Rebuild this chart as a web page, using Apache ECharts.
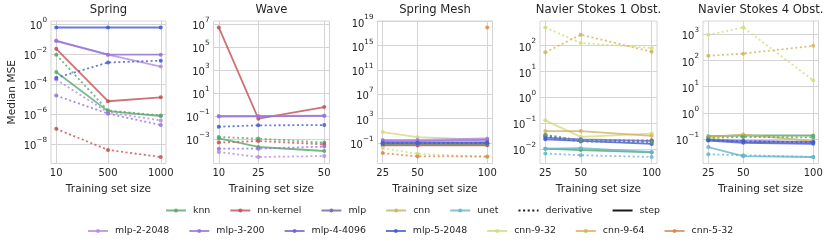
<!DOCTYPE html>
<html><head><meta charset="utf-8">
<script src="https://cdn.jsdelivr.net/npm/echarts@6/dist/echarts.min.js"></script>
<style>html,body{margin:0;padding:0;background:#fff}#c{width:831px;height:249px}</style>
</head><body><div id="c"></div>
<script>
// ---------------- data ----------------
const panelTitles = ['Spring', 'Wave', 'Spring Mesh', 'Navier Stokes 1 Obst.', 'Navier Stokes 4 Obst.'];
const xSpring = [10, 500, 1000];
const xWave = [10, 25, 50];
const xMesh = [25, 50, 100];
const xNS1 = [25, 50, 100];
const xNS4 = [25, 50, 100];
const yTicksSpring = [1e-8, 1e-6, 1e-4, 1e-2, 1];
const yTicksWave = [1e-3, 1e-1, 1e1, 1e3, 1e5, 1e7];
const yTicksMesh = [1e-1, 1e3, 1e7, 1e11, 1e15, 1e19];
const yTicksNS1 = [1e-2, 1e-1, 1, 1e1, 1e2];
const yTicksNS4 = [1e-1, 1, 1e1, 1e2, 1e3];

// Spring
const spring_knn_step = [6.5e-4, 1.55e-6, 7.2e-7];
const spring_knn_deriv = [9.3e-3, 1.7e-6, 7.9e-7];
const spring_nnk_step = [2.3e-2, 7.1e-6, 1.3e-5];
const spring_nnk_deriv = [1.0e-7, 3.9e-9, 1.3e-9];
const spring_mlp2_step = [8.3e-2, 9.3e-3, 1.5e-3];
const spring_mlp3_step = [7.6e-2, 9.3e-3, 9.3e-3];
const spring_mlp5_step = [0.62, 0.62, 0.62];
const spring_mlp2_deriv = [2.0e-4, 1.26e-6, 3.7e-7];
const spring_mlp3_deriv = [1.7e-5, 1.05e-6, 1.8e-7];
const spring_mlp5_deriv = [2.6e-4, 2.8e-3, 3.7e-3];
// Wave
const wave_nnk_step = [5.2e6, 5.8e-2, 0.59];
const wave_mlp2_step = [0.1, 0.1, 0.107];
const wave_mlp3_step = [0.089, 0.091, 0.1];
const wave_mlp5_deriv = [1.15e-2, 1.5e-2, 1.6e-2];
const wave_knn_deriv = [1.45e-3, 1.05e-3, 4.7e-4];
const wave_knn_step = [1.1e-3, 1.95e-4, 8.7e-5];
const wave_nnk_deriv = [4.7e-4, 6.5e-4, 3.3e-4];
const wave_mlp3_deriv = [1.4e-4, 1.4e-4, 2.1e-4];
const wave_mlp2_deriv = [7.1e-5, 2.6e-5, 3.2e-5];
// Spring Mesh
const mesh_cnn932_step = [5.8, 0.87, 0.31];
const mesh_mlp2_step = [0.31, 0.31, 0.51];
const mesh_mlp3_step = [0.19, 0.19, 0.31];
const mesh_mlp4_step = [0.11, 0.11, 0.13];
const mesh_mlp5_step = [0.078, 0.078, 0.08];
const mesh_knn_step = [0.054, 0.054, 0.054];
const mesh_nnk_step = [0.036, 0.036, 0.038];
const mesh_cnn532_step = [null, null, 1e18];
const mesh_knn_deriv = [0.075, 0.07, 0.075];
const mesh_mlp5_deriv = [0.085, 0.085, 0.088];
const mesh_cnn932_deriv = [1.35e-2, 1.55e-3, 4.5e-4];
const mesh_cnn532_deriv = [2.0e-3, 5.6e-4, 5.6e-4];
// Navier Stokes 1 Obst.
const ns1_cnn932_deriv = [500, 126, 81];
const ns1_cnn964_deriv = [55, 263, 58];
const ns1_cnn932_step = [0.13, 0.030, 0.040];
const ns1_cnn964_step = [0.050, 0.050, 0.033];
const ns1_mlp4_step = [0.028, 0.024, 0.021];
const ns1_mlp5_step = [0.024, 0.021, 0.016];
const ns1_mlp4_deriv = [0.035, 0.022, 0.022];
const ns1_mlp5_deriv = [0.031, 0.020, 0.019];
const ns1_knn_deriv = [0.036, 0.021, 0.019];
const ns1_knn_step = [0.0105, 0.0093, 0.0075];
const ns1_unet_step = [0.0105, 0.011, 0.0078];
const ns1_unet_deriv = [0.0068, 0.0059, 0.0050];
// Navier Stokes 4 Obst.
const ns4_cnn932_deriv = [955, 1820, 17.4];
const ns4_cnn964_deriv = [151, 182, 363];
const ns4_knn_step = [0.128, 0.136, 0.136];
const ns4_knn_deriv = [0.11, 0.12, 0.115];
const ns4_cnn964_step = [0.117, 0.148, 0.083];
const ns4_cnn932_step = [0.105, 0.078, 0.072];
const ns4_mlp4_step = [0.095, 0.085, 0.078];
const ns4_mlp5_step = [0.087, 0.072, 0.066];
const ns4_mlp5_deriv = [0.09, 0.082, 0.075];
const ns4_unet_step = [0.049, 0.022, 0.0205];
const ns4_unet_deriv = [0.026, 0.024, 0.0205];

const legendRow1 = ['knn', 'nn-kernel', 'mlp', 'cnn', 'unet', 'derivative', 'step'];
const legendRow2 = ['mlp-2-2048', 'mlp-3-200', 'mlp-4-4096', 'mlp-5-2048', 'cnn-9-32', 'cnn-9-64', 'cnn-5-32'];

// ---------------- styles ----------------
const FONT = 'DejaVu Sans';
const TXT = '#262626';
const GRIDC = '#d4d4d4';
const colors = {
  'knn': '#55a868', 'nn-kernel': '#c44e52', 'mlp': '#8172b2', 'cnn': '#ccb974', 'unet': '#64b5cd',
  'mlp-2-2048': '#b08be4', 'mlp-3-200': '#9570da', 'mlp-4-4096': '#6e60d6', 'mlp-5-2048': '#4258d2',
  'cnn-9-32': '#d3db7e', 'cnn-9-64': '#d6b25a', 'cnn-5-32': '#d8874b',
  'derivative': '#000000', 'step': '#000000'
};

const panels = [
  { title: panelTitles[0], x: xSpring, yt: yTicksSpring, lines: [
    ['mlp-5-2048', 'step', spring_mlp5_step], ['mlp-2-2048', 'step', spring_mlp2_step], ['mlp-3-200', 'step', spring_mlp3_step],
    ['nn-kernel', 'step', spring_nnk_step], ['knn', 'step', spring_knn_step],
    ['knn', 'deriv', spring_knn_deriv], ['nn-kernel', 'deriv', spring_nnk_deriv], ['mlp-2-2048', 'deriv', spring_mlp2_deriv],
    ['mlp-3-200', 'deriv', spring_mlp3_deriv], ['mlp-5-2048', 'deriv', spring_mlp5_deriv] ] },
  { title: panelTitles[1], x: xWave, yt: yTicksWave, lines: [
    ['nn-kernel', 'step', wave_nnk_step], ['knn', 'step', wave_knn_step], ['mlp-2-2048', 'step', wave_mlp2_step], ['mlp-3-200', 'step', wave_mlp3_step],
    ['mlp-5-2048', 'deriv', wave_mlp5_deriv], ['knn', 'deriv', wave_knn_deriv], ['nn-kernel', 'deriv', wave_nnk_deriv],
    ['mlp-3-200', 'deriv', wave_mlp3_deriv], ['mlp-2-2048', 'deriv', wave_mlp2_deriv] ] },
  { title: panelTitles[2], x: xMesh, yt: yTicksMesh, lines: [
    ['cnn-5-32', 'step', mesh_cnn532_step], ['cnn-9-32', 'step', mesh_cnn932_step], ['mlp-2-2048', 'step', mesh_mlp2_step],
    ['mlp-3-200', 'step', mesh_mlp3_step], ['mlp-4-4096', 'step', mesh_mlp4_step], ['mlp-5-2048', 'step', mesh_mlp5_step],
    ['knn', 'step', mesh_knn_step], ['nn-kernel', 'step', mesh_nnk_step],
    ['knn', 'deriv', mesh_knn_deriv], ['mlp-5-2048', 'deriv', mesh_mlp5_deriv],
    ['cnn-9-32', 'deriv', mesh_cnn932_deriv], ['cnn-5-32', 'deriv', mesh_cnn532_deriv] ] },
  { title: panelTitles[3], x: xNS1, yt: yTicksNS1, lines: [
    ['cnn-9-32', 'step', ns1_cnn932_step], ['cnn-9-64', 'step', ns1_cnn964_step], ['mlp-4-4096', 'step', ns1_mlp4_step],
    ['mlp-5-2048', 'step', ns1_mlp5_step], ['knn', 'step', ns1_knn_step], ['unet', 'step', ns1_unet_step],
    ['cnn-9-32', 'deriv', ns1_cnn932_deriv], ['cnn-9-64', 'deriv', ns1_cnn964_deriv], ['mlp-4-4096', 'deriv', ns1_mlp4_deriv],
    ['mlp-5-2048', 'deriv', ns1_mlp5_deriv], ['knn', 'deriv', ns1_knn_deriv], ['unet', 'deriv', ns1_unet_deriv] ] },
  { title: panelTitles[4], x: xNS4, yt: yTicksNS4, lines: [
    ['knn', 'step', ns4_knn_step], ['cnn-9-64', 'step', ns4_cnn964_step], ['cnn-9-32', 'step', ns4_cnn932_step],
    ['mlp-4-4096', 'step', ns4_mlp4_step], ['mlp-5-2048', 'step', ns4_mlp5_step], ['unet', 'step', ns4_unet_step],
    ['cnn-9-32', 'deriv', ns4_cnn932_deriv], ['cnn-9-64', 'deriv', ns4_cnn964_deriv], ['knn', 'deriv', ns4_knn_deriv],
    ['mlp-5-2048', 'deriv', ns4_mlp5_deriv], ['unet', 'deriv', ns4_unet_deriv] ] }
];

// ---------------- layout ----------------
const boxes = [[51, 115], [213.5, 116], [377.5, 115], [540, 117], [703, 115.5]];
const TOP = 21, H = 142.5;
const DOT = [2, 2.6];

const grids = [], xAxes = [], yAxes = [], titles = [];
const stepSeries = [], derivSeries = [];

function sup(e) { return e < 0 ? '\u2212' + (-e) : String(e); }

panels.forEach((p, i) => {
  const [left, width] = boxes[i];
  grids.push({ left, top: TOP, width, height: H, show: true, borderColor: GRIDC, borderWidth: 1, backgroundColor: 'transparent' });
  const xs = p.x;
  const xspan = xs[xs.length - 1] - xs[0];
  xAxes.push({
    type: 'value', gridIndex: i, min: xs[0] - 0.05 * xspan, max: xs[xs.length - 1] + 0.05 * xspan,
    axisLine: { show: false }, axisTick: { show: false, customValues: xs },
    axisLabel: { customValues: xs, formatter: v => String(v), margin: 5, fontSize: 10, fontFamily: FONT, color: TXT },
    splitLine: { show: true, lineStyle: { color: GRIDC, width: 1 } },
    name: 'Training set size', nameLocation: 'middle', nameGap: 19,
    nameTextStyle: { fontSize: 10.6, fontFamily: FONT, color: TXT }
  });
  const vals = [];
  p.lines.forEach(l => l[2].forEach(v => { if (v != null) vals.push(Math.log10(v)); }));
  const lmin = Math.min(...vals), lmax = Math.max(...vals);
  const pad = 0.05 * (lmax - lmin);
  yAxes.push({
    type: 'log', gridIndex: i, logBase: 10, min: Math.pow(10, lmin - pad), max: Math.pow(10, lmax + pad),
    axisLine: { show: false }, axisTick: { show: false, customValues: p.yt },
    axisLabel: {
      customValues: p.yt, margin: 4,
      formatter: v => '{b|10}{s|' + sup(Math.round(Math.log10(v))) + '}',
      rich: {
        b: { fontSize: 10, fontFamily: FONT, color: TXT, verticalAlign: 'bottom', lineHeight: 15 },
        s: { fontSize: 7.2, fontFamily: FONT, color: TXT, verticalAlign: 'top', lineHeight: 15 }
      }
    },
    splitLine: { show: true, lineStyle: { color: GRIDC, width: 1 } },
    name: i === 0 ? 'Median MSE' : '', nameLocation: 'middle', nameGap: 33,
    nameTextStyle: { fontSize: 10.6, fontFamily: FONT, color: TXT }
  });
  titles.push({ text: p.title, left: left + width / 2, top: 4, textAlign: 'center', padding: 0,
    textStyle: { fontSize: 11.6, fontWeight: 'normal', fontFamily: FONT, color: TXT } });

  p.lines.forEach(([model, kind, arr]) => {
    const c = colors[model];
    const s = {
      type: 'line', name: model, xAxisIndex: i, yAxisIndex: i,
      data: xs.map((x, k) => [x, arr[k] == null ? '-' : arr[k]]),
      symbol: 'circle', symbolSize: 4, showSymbol: true, showAllSymbol: true,
      lineStyle: { color: c, width: 1.8, type: kind === 'deriv' ? DOT : 'solid', opacity: 0.8 },
      itemStyle: { color: c, opacity: 0.85 },
      emphasis: { disabled: true }, animation: false, silent: true
    };
    (kind === 'step' ? stepSeries : derivSeries).push(s);
  });
});

// legend-only entries
const dummy = (name, type, withSymbol) => ({
  type: 'line', name, xAxisIndex: 0, yAxisIndex: 0, data: [],
  symbol: withSymbol ? 'circle' : 'none', symbolSize: 4,
  lineStyle: { color: colors[name], width: 1.8, type: type, opacity: 0.9 },
  itemStyle: { color: colors[name], opacity: withSymbol ? 1 : 0 }, animation: false, silent: true
});
const extra = [dummy('mlp', 'solid', true), dummy('cnn', 'solid', true),
  dummy('derivative', DOT, false), dummy('step', 'solid', false)];

const legendBase = {
  itemWidth: 20, itemHeight: 5, itemGap: 19, padding: 0, selectedMode: false,
  textStyle: { fontSize: 9.4, fontFamily: FONT, color: TXT, padding: [0, 0, 0, 2] }
};

const option = {
  backgroundColor: '#ffffff',
  animation: false,
  title: titles,
  grid: grids,
  xAxis: xAxes,
  yAxis: yAxes,
  legend: [
    Object.assign({}, legendBase, { data: legendRow1, left: 165, top: 206 }),
    Object.assign({}, legendBase, { data: legendRow2, left: 87, top: 226.5 })
  ],
  series: [...stepSeries, ...extra, ...derivSeries]
};

const chart = echarts.init(document.getElementById('c'), null, { renderer: 'canvas' });
chart.setOption(option);
</script></body></html>
